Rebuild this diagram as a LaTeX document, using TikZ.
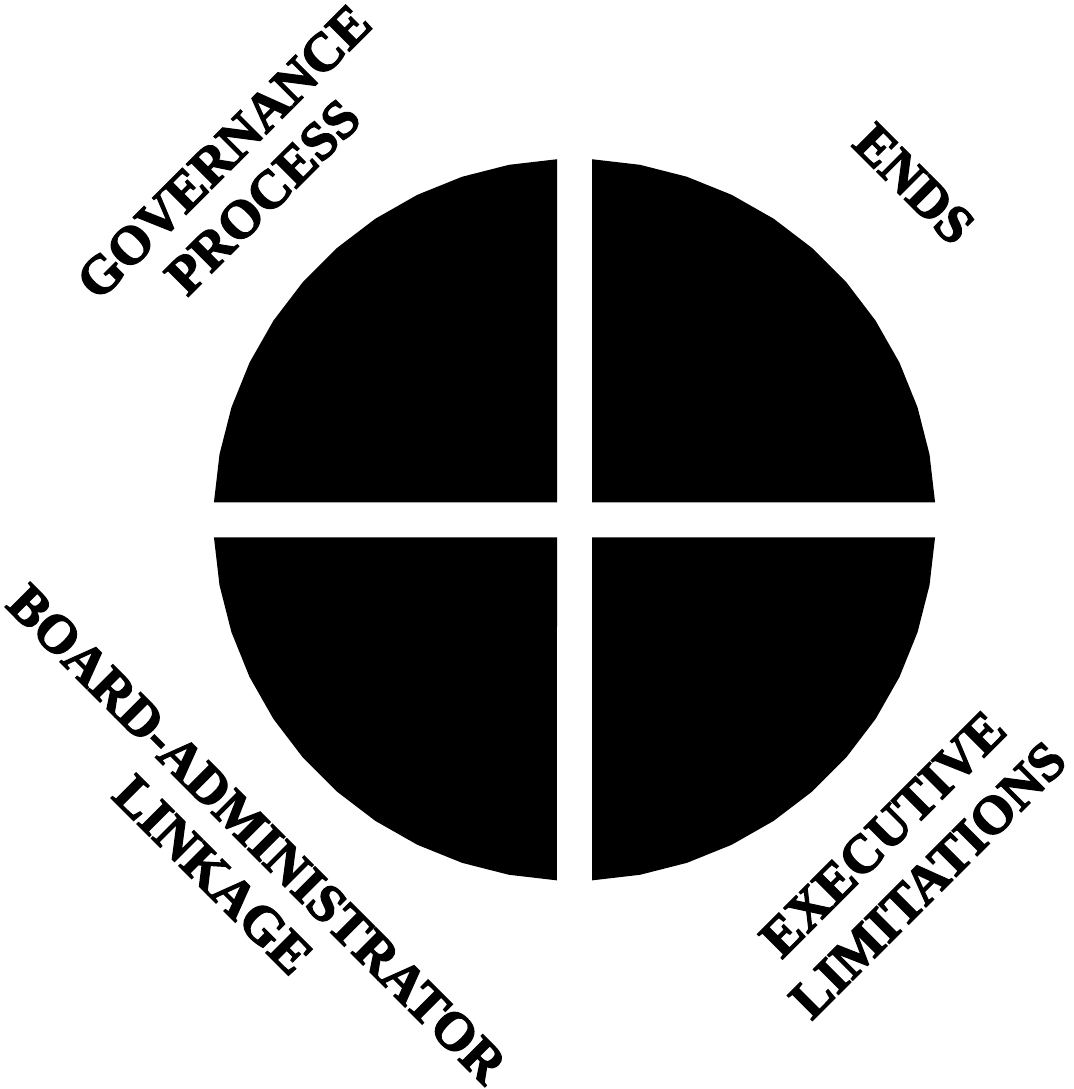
\documentclass[tikz,border=0pt]{standalone}
\usepackage{fontspec}
\setmainfont{Liberation Serif}
\newfontfamily\lblfont{Liberation Serif Bold}[FakeBold=2.5]
\tikzset{
  lbl/.style={font=\lblfont\fontsize{54}{60}\selectfont, inner sep=0pt, anchor=center},
  quad/.style={fill=black}
}
\begin{document}
\begin{tikzpicture}[x=1pt,y=1pt]
\useasboundingbox (0,0) rectangle (1073,-1089);
\begin{scope}[shift={(574.5,-519.8)}]
\foreach \b in {0,90,180,270}{
  \fill[quad] (\b+45:24.75) -- plot[domain=0:11,samples=12,variable=\k]
    ({361*cos(\b+2.78+\k*7.676)},{361*sin(\b+2.78+\k*7.676)}) -- cycle;
}
\end{scope}
\node[lbl, rotate=45]  (gov)   at (224,-152) {GOVERNANCE};
\node[lbl, rotate=45]  (proc)  at (263,-197) {PROCESS};
\node[lbl, rotate=-45] (ends)  at (914,-184) {ENDS};
\node[lbl, rotate=-45] (board) at (257,-834) {BOARD-ADMINISTRATOR};
\node[lbl, rotate=-45] (link)  at (213,-875) {LINKAGE};
\node[lbl, rotate=45]  (exec)  at (883,-834) {EXECUTIVE};
\node[lbl, rotate=45]  (limit) at (928,-880) {LIMITATIONS};
\end{tikzpicture}
\end{document}
